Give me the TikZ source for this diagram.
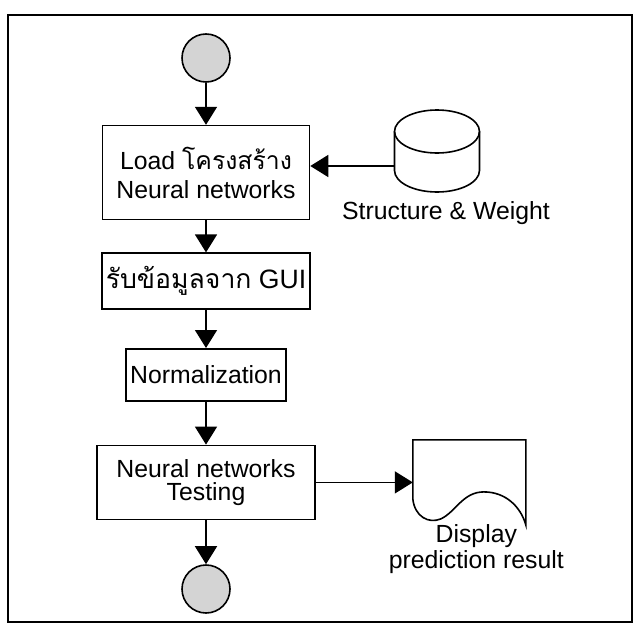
\documentclass[tikz,border=0pt]{standalone}
\usepackage{fontspec}
\setmainfont{Liberation Sans}
\newfontfamily\thaifont[Script=Thai]{Loma}
\usepackage{tikz}
\usetikzlibrary{arrows.meta,positioning}
\definecolor{tfill}{HTML}{D4D4D4}
\definecolor{tdark}{HTML}{333333}

\begin{document}
\begin{tikzpicture}[
  x=0.5pt,y=-0.5pt,
  font=\fontsize{12.4}{11.5}\selectfont,
  n/.style={draw,line width=0.8pt,align=center,inner sep=2pt},
  term/.style={circle,draw,line width=0.8pt,fill=tfill,minimum size=24pt,inner sep=0pt},
  hold/.style={inner sep=0pt,outer sep=0pt},
  a/.style={-{Triangle[length=9pt,width=11pt]},draw=black,fill=tdark,line width=0.8pt}
]
\useasboundingbox (0,0) rectangle (640,631);
\draw[line width=1.2pt] (8,15) rectangle (632,622);
\node[term] (start) at (206,58) {};
\node[n,below=21pt of start,minimum width=103.5pt,minimum height=47pt,
  font=\fontsize{12.4}{14.5}\selectfont]
  (load) {Load {\thaifont โครงสร้าง}\\Neural networks};
\node[n,below=16pt of load,minimum width=101.5pt,minimum height=28pt,
  font=\fontsize{13.3}{14}\selectfont]
  (gui) {{\thaifont รับข้อมูลจาก} GUI};
\node[n,below=19pt of gui,minimum width=76pt,minimum height=26pt]
  (norm) {Normalization};
\node[n,below=21.5pt of norm,minimum width=109pt,minimum height=37pt]
  (test) {Neural networks\\Testing};
\node[term,below=22pt of test] (stop) {};
% database
\node[hold,minimum width=42.5pt,minimum height=41pt] (db) at (437,151) {};
\draw[line width=0.8pt] ([yshift=-10.75pt]db.north) ellipse [x radius=21.25pt,y radius=10.75pt];
\draw[line width=0.8pt] ([yshift=-10.75pt]db.north west) -- ([yshift=10.75pt]db.south west)
  arc[start angle=180,end angle=360,x radius=21.25pt,y radius=10.75pt]
  -- ([yshift=-10.75pt]db.north east);
\node[below=1pt of db,xshift=4.5pt] (dbtext) {Structure \& Weight};
% display
\node[hold,minimum width=56.5pt,minimum height=42.5pt,right=48.5pt of test] (doc) {};
\begin{scope}[shift={(doc.north west)}]
\draw[line width=0.8pt] (0,0) -- (0,59) .. controls (2,77) and (16,84) .. (28,79)
  .. controls (43,72) and (50,52) .. (71,52) .. controls (93,52) and (108,67) .. (113,85)
  -- (113,0) -- cycle;
\end{scope}
\node[below=-3.5pt of doc,xshift=3.5pt,align=center] (doctext) {Display\\prediction result};
% flow
\draw[a] (start) -- (load);
\draw[a] (load) -- (gui);
\draw[a] (gui) -- (norm);
\draw[a] (norm) -- (test);
\draw[a] (test) -- (stop);
\draw[a] (db.west) ++(0,15) coordinate (dbin) -- (dbin -| load.east);
\draw[a] (test) -- (doc);
\end{tikzpicture}
\end{document}
